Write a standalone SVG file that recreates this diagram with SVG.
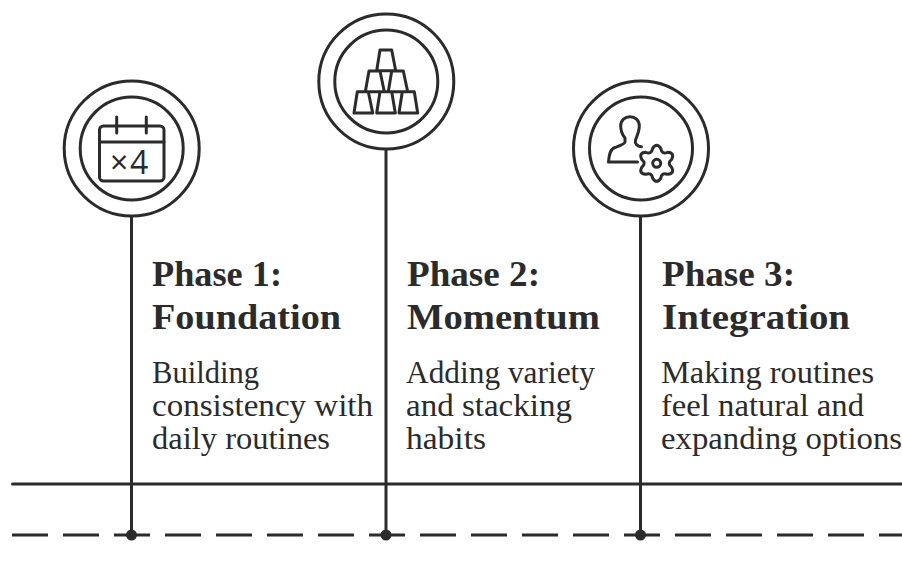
<svg xmlns="http://www.w3.org/2000/svg" width="902" height="582" viewBox="0 0 902 582">
<style>
.l{fill:none;stroke:#2b2b2b;stroke-width:3;stroke-linecap:round;stroke-linejoin:round}
.c{fill:#fff;stroke:#2b2b2b;stroke-width:3}
.h{font-family:"Liberation Serif",serif;font-weight:700;font-size:36px;fill:#2b2b2b}
.b{font-family:"Liberation Serif",serif;font-size:31px;fill:#2b2b2b}
</style>
<rect width="902" height="582" fill="#fff"/>
<g id="connectors" class="l">
<path d="M12.5 484H902"/>
<path d="M12 535H902" stroke-dasharray="36 15" stroke-linecap="butt"/>
<path d="M131.5 215V535M386 148V535M640.5 215V535"/>
<g style="fill:#2b2b2b;stroke:none"><circle cx="131.5" cy="535" r="5.5"/><circle cx="386" cy="535" r="5.5"/><circle cx="640.5" cy="535" r="5.5"/></g>
</g>
<g id="phase1">
<circle class="c" cx="131.7" cy="148.5" r="67.5"/><circle class="l" cx="131.7" cy="148.5" r="51.5"/>
<rect class="l" x="99.5" y="126" width="64.5" height="55" rx="4"/>
<path class="l" d="M99.5 142H164M116.7 117V133M146.3 117V133"/>
<text x="110 130" y="173.5" font-family="Open Sans,sans-serif" font-size="32" fill="#2b2b2b">×4</text>
<text class="h" x="152" y="286" textLength="130" lengthAdjust="spacingAndGlyphs">Phase 1:</text>
<text class="h" x="152" y="329" textLength="189" lengthAdjust="spacingAndGlyphs">Foundation</text>
<text class="b" x="152" y="383" textLength="107" lengthAdjust="spacingAndGlyphs">Building</text>
<text class="b" x="152" y="416" textLength="221" lengthAdjust="spacingAndGlyphs">consistency with</text>
<text class="b" x="152" y="449" textLength="178" lengthAdjust="spacingAndGlyphs">daily routines</text>
</g>
<g id="phase2">
<circle class="c" cx="386.3" cy="81.5" r="67.5"/><circle class="l" cx="386.3" cy="81.5" r="51.5"/>
<path class="l" d="M380 50H391.7L395.7 70.7H376.7ZM369 71H380M365.3 91.7L369 71M380 71L384.3 91.7M391.7 71H403.3L407.7 91.7M388.3 91.7L391.7 71M357.3 91.7H414.3M357.3 91.7L354 113H372.7L368.3 91.7M380 91.7L376.7 113H395.3L391.7 91.7M402.3 91.7L399 113H417.7L414.3 91.7"/>
<text class="h" x="407" y="286" textLength="133" lengthAdjust="spacingAndGlyphs">Phase 2:</text>
<text class="h" x="407" y="329" textLength="193" lengthAdjust="spacingAndGlyphs">Momentum</text>
<text class="b" x="406" y="383" textLength="189" lengthAdjust="spacingAndGlyphs">Adding variety</text>
<text class="b" x="406" y="416" textLength="166" lengthAdjust="spacingAndGlyphs">and stacking</text>
<text class="b" x="406" y="449" textLength="80" lengthAdjust="spacingAndGlyphs">habits</text>
</g>
<g id="phase3">
<circle class="c" cx="641" cy="148.5" r="67.5"/><circle class="l" cx="641" cy="148.5" r="51.5"/>
<path class="l" d="M641.5 146.7C637 146.5 634.5 143.5 635.5 140C637.5 135 639.3 131 639.3 126C639.3 120 635 116.7 630 116.7C625 116.7 620.7 120 620.7 126C620.7 131 623 135.5 625 138L625 142C625 144 619 146 615 147.5C610 149 609 155 608.5 162L637.5 162"/>
<g transform="translate(656.7 163.3)"><path class="l" d="M-4 -15Q0 -21 4 -15Q5 -8.7 11 -11Q18.2 -10.5 15 -4Q10 0 15 4Q18.2 10.5 11 11Q5 8.7 4 15Q0 21 -4 15Q-5 8.7 -11 11Q-18.2 10.5 -15 4Q-10 0 -15 -4Q-18.2 -10.5 -11 -11Q-5 -8.7 -4 -15Z"/><circle class="l" r="4"/></g>
<text class="h" x="662" y="286" textLength="133" lengthAdjust="spacingAndGlyphs">Phase 3:</text>
<text class="h" x="662" y="329" textLength="188" lengthAdjust="spacingAndGlyphs">Integration</text>
<text class="b" x="661" y="383" textLength="213" lengthAdjust="spacingAndGlyphs">Making routines</text>
<text class="b" x="661" y="416" textLength="203" lengthAdjust="spacingAndGlyphs">feel natural and</text>
<text class="b" x="661" y="449" textLength="241" lengthAdjust="spacingAndGlyphs">expanding options</text>
</g>
</svg>
